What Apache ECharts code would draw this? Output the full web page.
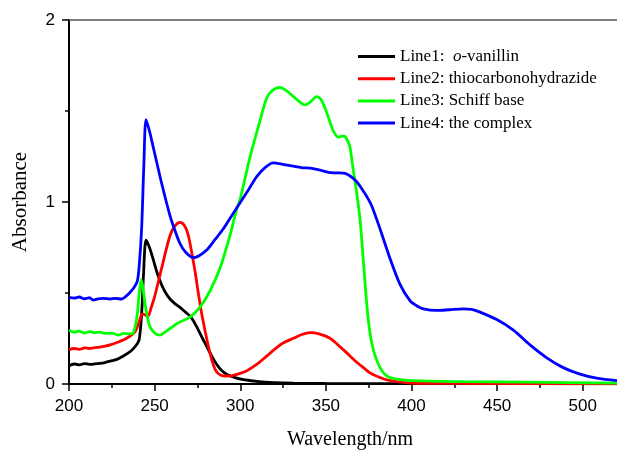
<!DOCTYPE html>
<html>
<head>
<meta charset="utf-8">
<script src="https://cdn.jsdelivr.net/npm/echarts@6/dist/echarts.min.js"></script>
<style>
  html, body { margin: 0; padding: 0; background: #fff; }
  #chart { width: 617px; height: 455px; }
</style>
</head>
<body>
<div id="chart"></div>
<script>
// 吸收光谱 (UV-Vis)
var seriesNames = ['Line1:  o-vanillin', 'Line2: thiocarbonohydrazide', 'Line3: Schiff base', 'Line4: the complex'];
var xTicks = [200, 250, 300, 350, 400, 450, 500];
var xMinorTicks = [225, 275, 325, 375, 425, 475];
var yTicks = [0, 1, 2];

var line1 = [
  [200,0.10],[203,0.11],[206,0.105],[209,0.112],[212,0.108],[215,0.11],[218,0.113],[221,0.118],[224,0.126],
  [228,0.135],[232,0.155],[236,0.18],[239,0.21],[241,0.245],[242.5,0.4],[243.5,0.6],[245,0.79],[247,0.75],
  [249,0.69],[251.5,0.61],[254,0.547],[256.5,0.5],[259,0.467],[262,0.44],[265,0.42],[268,0.395],[271,0.37],
  [274.6,0.314],[278,0.25],[280.4,0.207],[283,0.16],[286.2,0.108],[289,0.075],[292,0.054],[297,0.035],
  [302,0.024],[311,0.013],[320,0.008],[331,0.005],[350,0.003],[400,0.002],[520,0.001]
];
var line2 = [
  [200,0.188],[203,0.195],[206,0.19],[209,0.198],[212,0.195],[215,0.2],[218,0.203],[221,0.208],[224,0.215],
  [228,0.228],[233.7,0.251],[238.5,0.287],[240.5,0.33],[243,0.385],[246,0.372],[248,0.42],[250,0.48],
  [254.1,0.637],[259,0.816],[262,0.87],[264.8,0.888],[267.5,0.87],[269.7,0.816],[271.7,0.72],[273.6,0.619],
  [275.5,0.5],[277.5,0.386],[279.5,0.29],[281.4,0.207],[283.3,0.135],[285.3,0.081],[287.5,0.055],[290,0.045],
  [293,0.044],[296,0.048],[300,0.058],[303.8,0.072],[310,0.11],[315.4,0.153],[320,0.19],[325,0.225],[331,0.251],
  [336,0.272],[340.7,0.282],[346,0.275],[352.4,0.251],[357,0.215],[362.2,0.171],[367,0.128],[371.9,0.09],
  [376,0.06],[381.6,0.036],[386,0.022],[391.4,0.013],[400,0.005],[420,0.003],[520,0.002]
];
var line3 = [
  [200,0.296],[203,0.285],[206,0.29],[209,0.28],[212,0.288],[215,0.282],[218,0.285],[221,0.278],[225,0.28],
  [228.8,0.269],[232,0.278],[235,0.275],[237.6,0.282],[239.9,0.386],[241,0.5],[242.2,0.574],[243.3,0.52],
  [244.4,0.44],[246,0.36],[247.3,0.314],[250,0.28],[253.1,0.269],[256,0.285],[259,0.305],[263.8,0.336],
  [270.7,0.368],[276.5,0.422],[282.3,0.511],[288.2,0.637],[294,0.816],[297.9,0.96],[299.9,1.014],[305.7,1.247],
  [311.5,1.445],[315.4,1.57],[319,1.615],[323.2,1.629],[326.5,1.615],[330,1.588],[334,1.555],[337.8,1.534],
  [341,1.55],[344.6,1.579],[347,1.565],[349.5,1.516],[352,1.45],[354.3,1.391],[357.3,1.355],[359.5,1.362],
  [361.2,1.36],[363,1.33],[364.1,1.301],[366,1.175],[368,1.05],[370,0.9],[371.9,0.673],[374.8,0.35],
  [377.7,0.188],[381.6,0.09],[385.5,0.045],[391.4,0.027],[401,0.018],[430,0.013],[469,0.01],[520,0.005]
];
var line4 = [
  [200,0.476],[203,0.472],[206,0.478],[209,0.468],[212,0.474],[214.2,0.461],[217,0.468],[220,0.47],[224,0.467],
  [227,0.47],[230.8,0.467],[233,0.48],[235.6,0.503],[238,0.53],[239.9,0.565],[241,0.65],[242.4,0.853],
  [243.7,1.2],[245,1.453],[247,1.39],[249.2,1.301],[254.1,1.103],[259,0.924],[262,0.84],[264.8,0.772],
  [268,0.725],[272.6,0.694],[276,0.705],[280.4,0.736],[285,0.79],[290.1,0.853],[295,0.925],[299.9,0.996],
  [305,1.07],[309.6,1.139],[314,1.185],[319.3,1.215],[325,1.207],[331,1.197],[336.8,1.188],[340.7,1.186],
  [346.6,1.175],[352.4,1.161],[357,1.16],[361.2,1.157],[366,1.13],[369,1.1],[371.9,1.059],[374.5,1.02],
  [376.8,0.978],[381.6,0.853],[387.4,0.691],[393.3,0.547],[399.1,0.458],[403,0.43],[406.9,0.413],[414.7,0.404],
  [422,0.408],[430.3,0.413],[435,0.41],[440,0.395],[449.8,0.354],[459.5,0.296],[469.2,0.215],[479,0.144],
  [488.6,0.09],[498.4,0.054],[508.1,0.032],[520,0.018]
];

var colors = ['#000000', '#ff0000', '#00ff00', '#0000ff'];
var lines = [line1, line2, line3, line4];

var serif = '"Liberation Serif", "Times New Roman", serif';
var sans = '"Liberation Sans", Arial, sans-serif';

var chart = echarts.init(document.getElementById('chart'));

var series = lines.map(function (d, i) {
  return {
    name: seriesNames[i],
    type: 'line',
    data: d,
    smooth: 0.3,
    symbol: 'none',
    lineStyle: { color: colors[i], width: 2.8 },
    itemStyle: { color: colors[i] },
    z: 2 + i
  };
});

chart.setOption({
  animation: false,
  grid: { left: 69, right: 0, top: 20, bottom: 63 },
  legend: {
    orient: 'vertical',
    left: 353,
    top: 43,
    icon: 'rect',
    itemWidth: 37,
    itemHeight: 3,
    itemGap: 5.2,
    data: seriesNames,
    formatter: function (name) {
      if (name.indexOf('o-vanillin') > -1) return 'Line1:  {i|o}-vanillin';
      return name;
    },
    textStyle: {
      fontFamily: serif,
      fontSize: 17,
      color: '#000',
      rich: {
        i: { fontFamily: serif, fontSize: 17, fontStyle: 'italic', color: '#000' }
      }
    }
  },
  xAxis: [{
    type: 'value',
    min: 200,
    max: 520,
    interval: 50,
    name: 'Wavelength/nm',
    nameLocation: 'middle',
    nameGap: 46,
    nameTextStyle: { fontFamily: serif, fontSize: 20, color: '#000', padding: [0, 0, 0, 14] },
    axisLine: { show: true, onZero: false, lineStyle: { color: '#000', width: 2 } },
    axisTick: { show: true, inside: false, length: 7, customValues: xTicks, lineStyle: { color: '#000', width: 1.5 } },
    axisLabel: { margin: 14, fontFamily: sans, fontSize: 17, color: '#000', customValues: xTicks },
    splitLine: { show: false }
  }, {
    // minor ticks only
    type: 'value',
    position: 'bottom',
    min: 200,
    max: 520,
    axisLine: { show: false },
    axisTick: { show: true, inside: false, length: 4, customValues: xMinorTicks, lineStyle: { color: '#000', width: 1.5 } },
    axisLabel: { show: false },
    splitLine: { show: false }
  }, {
    type: 'value',
    position: 'top',
    min: 200,
    max: 520,
    axisLine: { show: true, lineStyle: { color: '#555', width: 1.5 } },
    axisTick: { show: false },
    axisLabel: { show: false },
    splitLine: { show: false }
  }],
  yAxis: {
    type: 'value',
    min: 0,
    max: 2,
    interval: 1,
    name: 'Absorbance',
    nameLocation: 'middle',
    nameGap: 38,
    nameTextStyle: { fontFamily: serif, fontSize: 21, color: '#000' },
    axisLine: { show: true, lineStyle: { color: '#000', width: 2 } },
    axisTick: { show: true, inside: false, length: 7, lineStyle: { color: '#000', width: 1.5 } },
    minorTick: { show: true, splitNumber: 2, length: 4, lineStyle: { color: '#000', width: 1.5 } },
    axisLabel: {
      margin: 14, fontFamily: sans, fontSize: 17, color: '#000',
      formatter: function (v) { return yTicks.indexOf(v) > -1 ? String(v) : ''; }
    },
    splitLine: { show: false }
  },
  series: series
});
</script>
</body>
</html>
